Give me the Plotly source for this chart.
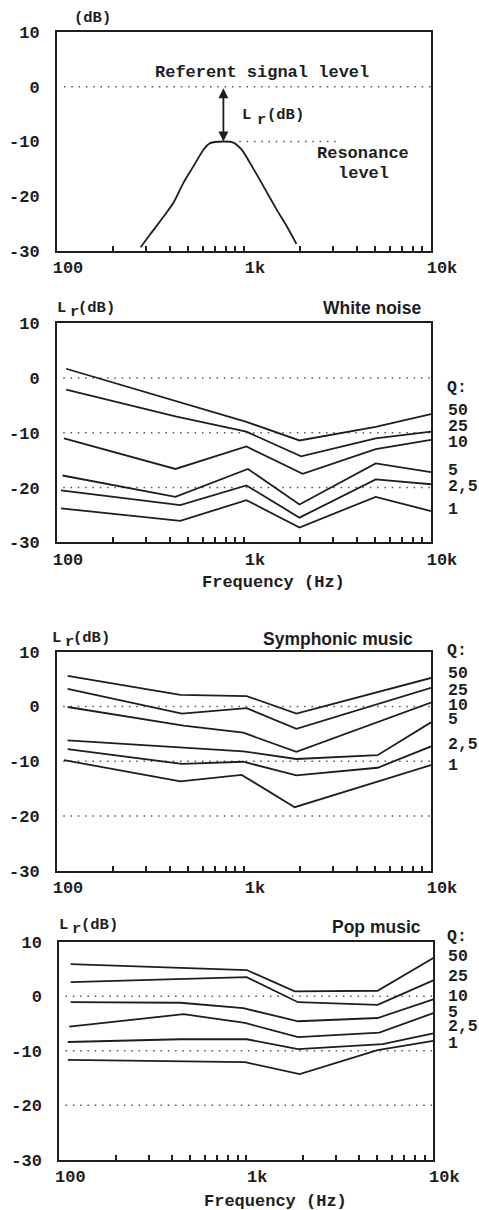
import math
import plotly.graph_objects as go

W, H = 479, 1210
MONO = "Liberation Mono, Courier New, monospace"
SANS = "Liberation Sans, Arial, sans-serif"
INK = "#1e1e1e"

Q_LABELS = ["50", "25", "10", "5", "2,5", "1"]
Y_TICKS = [-30, -20, -10, 0, 10]
Y_TICK_TEXT = ["-30", "-20", "-10", "0", "10"]
X_TICKS = [100, 1000, 10000]
X_TICK_TEXT = ["100", "1k", "10k"]
X_MINOR = [200, 300, 400, 500, 600, 700, 800, 900,
           2000, 3000, 4000, 5000, 6000, 7000, 8000, 9000]

# Panel 1: response of a single resonator
res_freq = [280, 316, 372, 421, 475, 537, 607, 659, 776, 877, 972, 1076, 1267, 1493, 1687, 1907]
res_level = [-29.3, -26.9, -23.7, -21.1, -17.5, -14.5, -11.5, -10.3, -10.0, -10.2,
             -11.5, -13.9, -18.1, -22.4, -25.4, -28.7]
peak_freq = 776
referent_level = 0
resonance_level = -10

# Panel 2: white noise, one curve per Q
white_freq = [
    [112, 1030, 1980, 5060, 10000],
    [112, 430, 1030, 2020, 5060, 10000],
    [109, 430, 1030, 2060, 5060, 10000],
    [107, 430, 1050, 1980, 5060, 10000],
    [105, 456, 1030, 1980, 5060, 10000],
    [105, 456, 1030, 1980, 5060, 10000],
]
white_lr = [
    [1.7, -8.0, -11.4, -8.9, -6.6],
    [-2.1, -7.0, -9.8, -14.3, -11.0, -9.8],
    [-11.0, -16.6, -12.5, -17.5, -13.0, -11.3],
    [-17.8, -21.7, -16.6, -23.1, -15.6, -17.2],
    [-20.5, -23.2, -19.6, -25.5, -18.5, -19.4],
    [-23.8, -26.1, -22.3, -27.3, -21.7, -24.3],
]

# Panel 3: symphonic music
sym_freq = [
    [114, 457, 1033, 1906, 10000],
    [114, 466, 1033, 1906, 10000],
    [114, 475, 991, 1906, 10000],
    [114, 991, 1906, 5180, 10000],
    [114, 466, 991, 1906, 5180, 10000],
    [109, 457, 972, 1867, 10000],
]
sym_lr = [
    [5.6, 2.1, 1.9, -1.3, 5.2],
    [3.2, -1.3, -0.3, -4.1, 3.4],
    [-0.1, -3.5, -4.8, -8.3, 0.7],
    [-6.2, -8.2, -9.6, -8.9, -2.9],
    [-7.8, -10.5, -10.1, -12.6, -11.2, -7.3],
    [-9.8, -13.7, -12.5, -18.4, -10.7],
]

# Panel 4: pop music
pop_freq = [
    [115, 1005, 1816, 5036, 10000],
    [115, 1005, 1891, 5036, 10000],
    [115, 444, 964, 1891, 5036, 10000],
    [113, 462, 984, 1891, 5143, 10000],
    [111, 444, 1005, 1891, 5355, 10000],
    [111, 984, 1930, 5036, 10000],
]
pop_lr = [
    [5.9, 4.8, 0.9, 1.0, 7.0],
    [2.6, 3.5, -1.1, -1.6, 2.9],
    [-1.1, -1.2, -2.2, -4.6, -4.0, -0.6],
    [-5.6, -3.3, -4.9, -7.5, -6.7, -3.1],
    [-8.4, -7.9, -7.9, -9.7, -8.8, -6.8],
    [-11.7, -12.1, -14.3, -9.9, -8.2],
]

# Pixel boxes of the four plot areas
panels = [
    dict(top=31, bottom=252, left=56, right=432),
    dict(top=322.3, bottom=543.3, left=56, right=432),
    dict(top=650.7, bottom=871.7, left=56, right=432),
    dict(top=940.7, bottom=1160.7, left=58.3, right=434.3),
]

# every 1..9 step of each decade carries a tick; only the decades are labelled
labels = dict(zip(X_TICKS, X_TICK_TEXT))
all_ticks = sorted(X_TICKS + X_MINOR)
all_text = [labels.get(v, "") for v in all_ticks]

fig = go.Figure()

tickfont = dict(family=MONO, size=17, color=INK, weight="bold")
for i, p in enumerate(panels, start=1):
    s = "" if i == 1 else str(i)
    fig.layout["xaxis" + s] = dict(
        domain=[(p["left"] + 1) / W, (p["right"] - 1) / W], anchor="y" + s,
        type="log", range=[2, 4], tickmode="array", tickvals=all_ticks, ticktext=all_text,
        ticks="inside", ticklen=5, tickwidth=1.5, tickcolor=INK,
        showline=True, mirror=True, linewidth=2, linecolor=INK,
        showgrid=False, zeroline=False, tickfont=tickfont, ticklabelshift=11,
        automargin=False, fixedrange=True)
    fig.layout["yaxis" + s] = dict(
        domain=[1 - (p["bottom"] - 1) / H, 1 - (p["top"] + 1) / H], anchor="x" + s,
        range=[-30, 10], tickvals=Y_TICKS, ticktext=Y_TICK_TEXT, ticks="",
        showline=True, mirror=True, linewidth=2, linecolor=INK,
        showgrid=False, zeroline=False, tickfont=tickfont, ticklabelstandoff=12,
        automargin=False, fixedrange=True)


def dotted(x0, x1, level, i):
    s = "" if i == 1 else str(i)
    fig.add_trace(go.Scatter(
        x=[x0, x1], y=[level, level], mode="lines", xaxis="x" + s, yaxis="y" + s,
        line=dict(color="#555", width=1.5, dash="1.5px,5.8px"),
        hoverinfo="skip", showlegend=False))


def curve(freq, level, i, shape="linear"):
    s = "" if i == 1 else str(i)
    fig.add_trace(go.Scatter(
        x=freq, y=level, mode="lines", xaxis="x" + s, yaxis="y" + s,
        line=dict(color=INK, width=1.8, shape=shape, smoothing=0.6),
        showlegend=False))


# Panel 1
dotted(109, 10000, referent_level, 1)
dotted(944, 3110, resonance_level, 1)
curve(res_freq, res_level, 1, shape="spline")

# Panels 2-4: reference levels and Q curves
for i, (fr, lv) in zip([2, 3, 4], [(white_freq, white_lr), (sym_freq, sym_lr), (pop_freq, pop_lr)]):
    for level in (0, -10, -20):
        dotted(108, 10000, level, i)
    for f, l in zip(fr, lv):
        curve(f, l, i)

# Double arrow between referent level and resonance peak
fig.add_annotation(
    x=math.log10(peak_freq), y=resonance_level, ax=math.log10(peak_freq), ay=referent_level,
    xref="x", yref="y", axref="x", ayref="y", text="", showarrow=True,
    arrowside="end+start", arrowhead=2, startarrowhead=2, arrowsize=1.1,
    startarrowsize=1.1, arrowwidth=1.8, arrowcolor=INK, standoff=0, startstandoff=0)


def note(text, x, y, size=17, family=MONO, xanchor="center", weight="bold", yshift=0):
    fig.add_annotation(
        text=text, x=x / W, y=1 - y / H, xref="paper", yref="paper",
        xanchor=xanchor, yanchor="middle", showarrow=False, yshift=yshift,
        borderpad=0, font=dict(family=family, size=size, color=INK, weight=weight))


def lr_label(x, y):
    note("L", x, y, size=15.5, xanchor="left")
    note("r", x + 13, y + 4, size=15.5, xanchor="left")
    note("(dB)", x + 21.5, y, size=15.5, xanchor="left")


# Panel 1 texts
note("(dB)", 92.5, 18.5, size=15.5)
note("Referent signal level", 262, 72.5)
note("L", 240.5, 115, size=15.5, xanchor="left")
note("r", 255.5, 120, size=15.5, xanchor="left")
note("(dB)", 266, 115, size=15.5, xanchor="left")
note("Resonance", 362.5, 154)
note("level", 363, 174)

# Panel headers
lr_label(55.5, 308)
lr_label(50.5, 638)
lr_label(58, 925)
note("White noise", 422, 308, size=17.5, family=SANS, xanchor="right")
note("Symphonic music", 414, 639, size=17.5, family=SANS, xanchor="right")
note("Pop music", 421.7, 926.5, size=17.5, family=SANS, xanchor="right")

# Q labels on the right of panels 2-4
q_rows = [
    [388, 410.7, 426.7, 442.7, 470, 486.7, 510],
    [650.7, 673, 690, 705.7, 719, 744, 765.7],
    [936, 956.7, 976.7, 996.7, 1012.7, 1026.7, 1043.3],
]
for rows in q_rows:
    note("Q:", 446, rows[0], size=16.5, xanchor="left")
    for lab, y in zip(Q_LABELS, rows[1:]):
        note(lab, 446.5, y, size=16.5, xanchor="left")

# Frequency axis captions
note("Frequency (Hz)", 273.5, 582)
note("Frequency (Hz)", 275.5, 1201.5)

fig.update_layout(
    width=W, height=H, margin=dict(l=0, r=0, t=0, b=0),
    paper_bgcolor="white", plot_bgcolor="white", showlegend=False,
)

fig.write_html("out.html")
